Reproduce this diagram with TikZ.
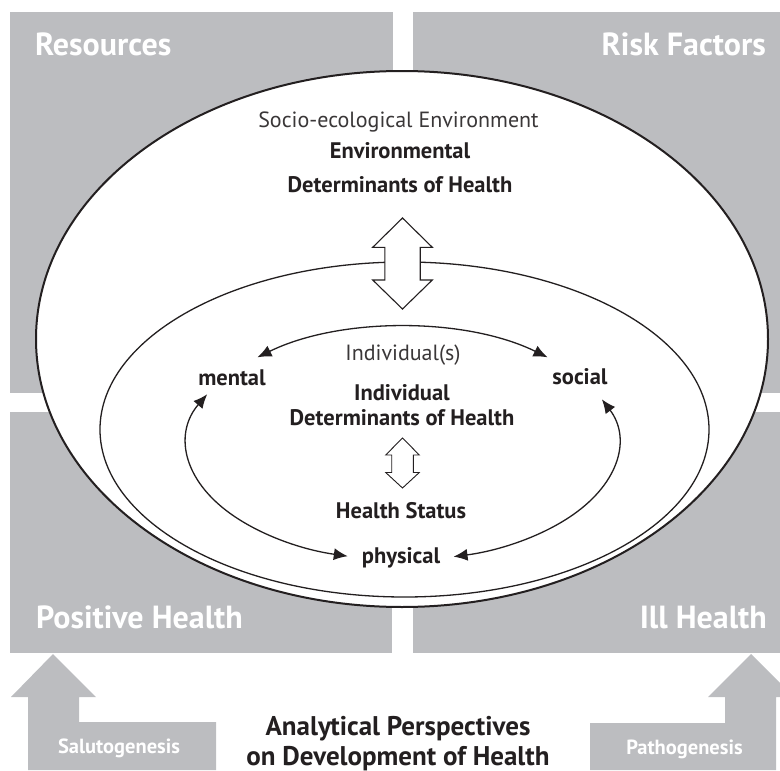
\documentclass[tikz,border=0pt]{standalone}
\usepackage{fontspec}
\setmainfont{PT Sans}
\usetikzlibrary{arrows.meta,calc}
\definecolor{boxgray}{HTML}{BCBDC0}
\definecolor{ink}{HTML}{231F20}
\definecolor{inklight}{HTML}{3A3738}
\begin{document}
\begin{tikzpicture}[x=1pt,y=-1pt,
  cornerlbl/.style={font=\bfseries\fontsize{32}{32}\selectfont, text=white, inner sep=0pt},
  boldlbl/.style={font=\bfseries\fontsize{22.5}{22.5}\selectfont, text=ink, inner sep=0pt, anchor=base},
  lightlbl/.style={font=\fontsize{22}{22}\selectfont, text=inklight, inner sep=0pt, anchor=base},
  graylbl/.style={font=\bfseries\fontsize{20.5}{20.5}\selectfont, text=white, inner sep=0pt, anchor=base},
  titlelbl/.style={font=\bfseries\fontsize{27}{27}\selectfont, text=ink, inner sep=0pt, anchor=base},
  graybox/.style={fill=boxgray},
  biarrow/.style={draw=ink, fill=white, line width=1.1pt, line join=miter},
  cyc/.style={draw=ink, line width=1.3pt, {Latex[length=14pt,width=12pt]}-{Latex[length=14pt,width=12pt]}},
]
\useasboundingbox (0,0) rectangle (780,771);

% gray quadrants
\fill[graybox] (10,12) rectangle (393,393);
\fill[graybox] (413,12) rectangle (780,393);
\fill[graybox] (10,412) rectangle (392,653);
\fill[graybox] (413,412) rectangle (780,653);

\node[cornerlbl, anchor=base west] (res) at (35,55) {Resources};
\node[cornerlbl, anchor=base east] (risk) at (766,55) {Risk Factors};
\node[cornerlbl, anchor=base west] (pos) at (36,628) {Positive Health};
\node[cornerlbl, anchor=base east] (ill) at (767,628) {Ill Health};

% ellipses
\draw[draw=ink, line width=2pt, fill=white] (402,339) ellipse [x radius=366, y radius=268];
\draw[draw=ink, line width=1.3pt] (404.5,429.5) ellipse [x radius=304.5, y radius=167.5];

% large double arrow
\draw[biarrow] (402.5,218) -- (432.3,247.3) -- (420.2,247.3) -- (420.2,280) -- (432.3,280)
  -- (402.5,309) -- (372.7,280) -- (384.8,280) -- (384.8,247.3) -- (372.7,247.3) -- cycle;

% small double arrow
\draw[biarrow, line width=0.9pt] (402.5,438) -- (419.3,455) -- (413.3,455) -- (413.3,472.5) -- (419.3,472.5)
  -- (402.5,488) -- (385.7,472.5) -- (391.7,472.5) -- (391.7,455) -- (385.7,455) -- cycle;

% texts
\node[lightlbl] (socio) at (398.5,127) {Socio-ecological Environment};
\node[boldlbl] (env1) at (400,158) {Environmental};
\node[boldlbl] (env2) at (400,192) {Determinants of Health};
\node[lightlbl] (indiv) at (403,360) {Individual(s)};
\node[boldlbl] (mental) at (232,385) {mental};
\node[boldlbl] (social) at (580,384) {social};
\node[boldlbl] (ind1) at (402,400) {Individual};
\node[boldlbl] (ind2) at (402,425) {Determinants of Health};
\node[boldlbl] (status) at (401,518) {Health Status};
\node[boldlbl] (physical) at (401,563) {physical};

% cycle arrows on an ellipse centred at (402.5,443.5)
\coordinate (cc) at (402.5,443.5);
\coordinate (mentalTop) at ($(cc)+(-132.3:215.5 and 116.5)$);
\coordinate (mentalLow) at ($(cc)+(-155:215.5 and 116.5)$);
\coordinate (socialLow) at ($(cc)+(-22.3:215.5 and 116.5)$);
\draw[cyc] (mentalTop) arc[start angle=-132.3, end angle=-47.7, x radius=215.5, y radius=116.5];
\draw[cyc] (mentalLow) arc[start angle=-155, end angle=-255.3, x radius=215.5, y radius=116.5];
\draw[cyc] (socialLow) arc[start angle=-22.3, end angle=76.3, x radius=215.5, y radius=116.5];

% bottom gray arrows
\fill[graybox] (28,770) -- (28,697) -- (11,697) -- (53,654) -- (96,697) -- (79,697) -- (79,722)
  -- (216,722) -- (216,770) -- cycle;
\fill[graybox] (590,770) -- (590,723) -- (725,723) -- (725,697) -- (708,697) -- (751,654)
  -- (794,697) -- (776,697) -- (776,770) -- cycle;
\node[graylbl] (salu) at (119,753) {Salutogenesis};
\node[graylbl] (patho) at (684.5,754) {Pathogenesis};

\node[titlelbl] (title1) at (398,735) {Analytical Perspectives};
\node[titlelbl] (title2) at (398,765) {on Development of Health};
\end{tikzpicture}
\end{document}
